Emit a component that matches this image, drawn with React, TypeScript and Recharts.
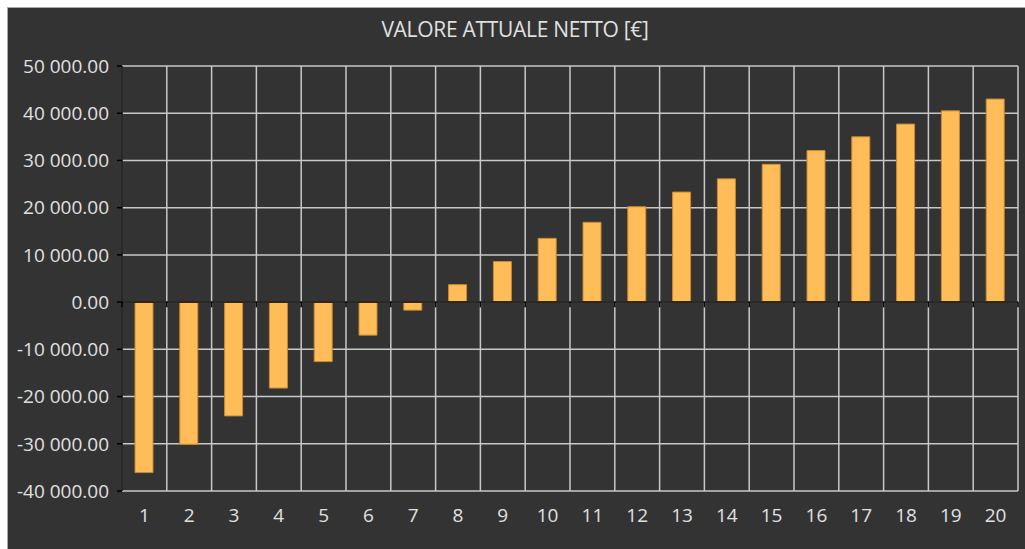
import { BarChart, Bar, XAxis, YAxis, CartesianGrid, ReferenceLine } from "recharts";

const anni = ["1", "2", "3", "4", "5", "6", "7", "8", "9", "10", "11", "12", "13", "14", "15", "16", "17", "18", "19", "20"];
const van = [
  -36100, -30100, -24100, -18200, -12600, -7000, -1700, 3700, 8600, 13500,
  16900, 20200, 23300, 26100, 29200, 32100, 35000, 37700, 40500, 43000,
];
const yTicks = [50000, 40000, 30000, 20000, 10000, 0, -10000, -20000, -30000, -40000];
const boundaries = Array.from({ length: anni.length + 1 }, (_, i) => i);

const data = anni.map((anno, i) => ({ anno, valore: van[i] }));

const fmt = (v: number) => {
  const s = Math.abs(v).toFixed(2).replace(/\B(?=(\d{3})+(?!\d))/g, " ");
  return (v < 0 ? "-" : "") + s;
};

const FONT = "Open Sans, DejaVu Sans, sans-serif";
const TEXT = "#e0e0e0";

export default function App() {
  return (
    <div style={{ position: "absolute", left: 0, top: 0, width: 1025, height: 549, background: "#ffffff", overflow: "hidden" }}>
      <div
        style={{
          position: "absolute",
          left: 7,
          top: 7,
          right: 0,
          bottom: 0,
          background: "#333333",
          borderTop: "1px solid #a8a8a8",
          borderLeft: "1px solid #a8a8a8",
        }}
      />
      <div
        style={{
          position: "absolute",
          left: 0,
          top: 15,
          width: 1030,
          textAlign: "center",
          fontFamily: FONT,
          fontSize: 21,
          letterSpacing: -0.3,
          color: TEXT,
        }}
      >
        VALORE ATTUALE NETTO [€]
      </div>
      <div style={{ position: "absolute", left: 0, top: 0 }}>
        <BarChart width={1025} height={549} data={data} margin={{ top: 66, right: 7, bottom: 0, left: 0 }}>
          <XAxis xAxisId="grid" type="number" dataKey={() => 0} domain={[0, anni.length]} ticks={boundaries} hide />
          <CartesianGrid
            xAxisId="grid"
            stroke="#c8c8c8"
            strokeWidth={1.5}
            horizontalValues={yTicks}
            verticalValues={boundaries}
          />
          <XAxis
            dataKey="anno"
            axisLine={false}
            tickLine={false}
            tickSize={0}
            tickMargin={18}
            height={58}
            interval={0}
            tick={{ fill: TEXT, fontSize: 19, fontFamily: FONT }}
          />
          <YAxis
            width={122}
            domain={[-40000, 50000]}
            ticks={yTicks}
            interval={0}
            tickFormatter={fmt}
            axisLine={{ stroke: "#000000", strokeWidth: 1.5 }}
            tickLine={{ stroke: "#000000", strokeWidth: 1.5 }}
            tickSize={5}
            tickMargin={8}
            tick={{ fill: TEXT, fontSize: 19, fontFamily: FONT }}
          />
          <ReferenceLine y={0} stroke="#000000" strokeWidth={1.5} />
          {boundaries.map((b) => (
            <ReferenceLine
              key={b}
              xAxisId="grid"
              segment={[{ x: b, y: 0 }, { x: b, y: -1100 }]}
              stroke="#000000"
              strokeWidth={1.5}
            />
          ))}
          <Bar dataKey="valore" fill="#ffbd59" stroke="#c98a2e" strokeWidth={1} barSize={18} isAnimationActive={false} />
        </BarChart>
      </div>
    </div>
  );
}
